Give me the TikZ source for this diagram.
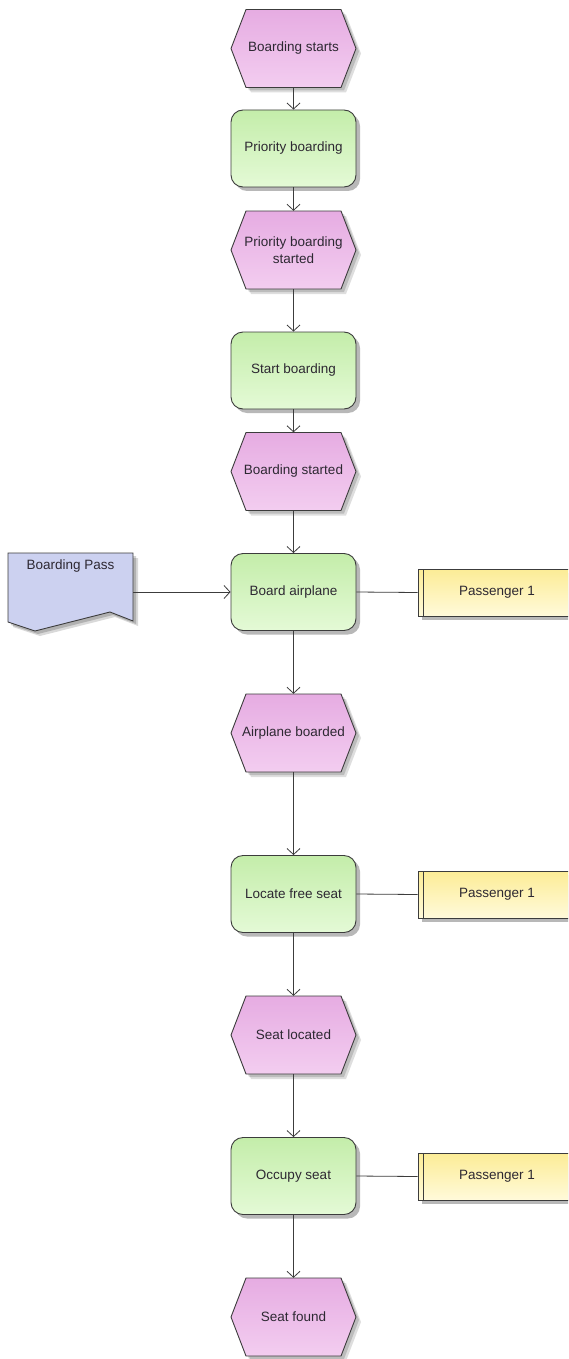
\documentclass[tikz,border=0pt]{standalone}
\usepackage{fontspec}
\setmainfont{Liberation Sans}
\usetikzlibrary{arrows.meta,shadows}
\definecolor{evtop}{RGB}{230,172,226}
\definecolor{evbot}{RGB}{243,205,240}
\definecolor{fntop}{RGB}{196,237,170}
\definecolor{fnbot}{RGB}{228,250,214}
\definecolor{docc}{RGB}{204,209,240}
\definecolor{roltop}{RGB}{252,236,150}
\definecolor{rolbot}{RGB}{255,250,218}
\definecolor{linec}{RGB}{60,60,60}
\definecolor{txtc}{RGB}{45,40,50}
\tikzset{
  lbl/.style={font=\fontsize{13.5}{16.5}\selectfont, text=txtc, align=center, inner sep=0pt},
  evtbox/.style={lbl, minimum width=125pt, minimum height=78pt},
  shad/.style={drop shadow={shadow xshift=4pt, shadow yshift=-4pt, opacity=.28, fill=black}},
  fnbox/.style={lbl, minimum width=125pt, minimum height=77pt, rounded corners=12pt,
    draw=linec, line width=0.9pt, top color=fntop, bottom color=fnbot, shad},
  rolebox/.style={lbl, minimum width=158pt, minimum height=47pt, draw=linec, line width=0.8pt,
    top color=roltop, bottom color=rolbot, shad,
    path picture={\draw[linec, line width=0.6pt] ([xshift=5pt]path picture bounding box.north west) -- ([xshift=5pt]path picture bounding box.south west);}},
  flow/.style={draw=linec, line width=0.8pt, -{Straight Barb[length=6pt,width=13pt,line width=0.8pt]}},
  assoc/.style={draw=linec, line width=0.8pt},
}
\newcommand\evt[4]{%
  \fill[black,opacity=.13] (#2-62.5+5,#3+5) -- (#2-47.5+5,#3-39+5) -- (#2+47.5+5,#3-39+5) -- (#2+62.5+5,#3+5) -- (#2+47.5+5,#3+39+5) -- (#2-47.5+5,#3+39+5) -- cycle;
  \fill[black,opacity=.15] (#2-62.5+3,#3+3) -- (#2-47.5+3,#3-39+3) -- (#2+47.5+3,#3-39+3) -- (#2+62.5+3,#3+3) -- (#2+47.5+3,#3+39+3) -- (#2-47.5+3,#3+39+3) -- cycle;
  \shade[top color=evtop, bottom color=evbot, draw=linec, line width=0.9pt] (#2-62.5,#3) -- (#2-47.5,#3-39) -- (#2+47.5,#3-39) -- (#2+62.5,#3) -- (#2+47.5,#3+39) -- (#2-47.5,#3+39) -- cycle;
  \node[evtbox] (#1) at (#2,#3) {#4};
}
\begin{document}
\begin{tikzpicture}[x=1pt,y=-1pt]
\useasboundingbox[fill=white] (0,0) rectangle (568,1359);
\clip (0,0) rectangle (568,1359);
% events
\evt{e1}{293.5}{48.5}{Boarding starts}
\evt{e2}{293.5}{250}{Priority boarding\\started}
\evt{e3}{293.5}{471.5}{Boarding started}
\evt{e4}{293.5}{733}{Airplane boarded}
\evt{e5}{293.5}{1035}{Seat located}
\evt{e6}{293.5}{1317}{Seat found}
% functions
\node[fnbox] (f1) at (293.5,148.5) {Priority boarding};
\node[fnbox] (f2) at (293.5,370.5) {Start boarding};
\node[fnbox] (f3) at (293.5,592) {Board airplane};
\node[fnbox] (f4) at (293.5,894) {Locate free seat};
\node[fnbox] (f5) at (293.5,1176) {Occupy seat};
% roles
\node[rolebox] (r1) at (497,592.5) {Passenger 1};
\node[rolebox] (r2) at (497,894.5) {Passenger 1};
\node[rolebox] (r3) at (497,1176.5) {Passenger 1};
% document
\fill[black,opacity=.15] (13,558) -- (138,558) -- (138,626) -- (115,617) -- (40,636) -- (13,627) -- cycle;
\fill[black,opacity=.18] (11,556) -- (136,556) -- (136,624) -- (113,615) -- (38,634) -- (11,625) -- cycle;
\filldraw[fill=docc, draw=linec, line width=0.9pt] (8,553) -- (133,553) -- (133,621) -- (110,612) -- (35,631) -- (8,622) -- cycle;
\node[lbl] (doc) at (70.5,566.5) {Boarding Pass};
\coordinate (docout) at (133,592);
% connectors
\draw[flow] (e1.south) -- (f1.north);
\draw[flow] (f1.south) -- (e2.north);
\draw[flow] (e2.south) -- (f2.north);
\draw[flow] (f2.south) -- (e3.north);
\draw[flow] (e3.south) -- (f3.north);
\draw[flow] (f3.south) -- (e4.north);
\draw[flow] (e4.south) -- (f4.north);
\draw[flow] (f4.south) -- (e5.north);
\draw[flow] (e5.south) -- (f5.north);
\draw[flow] (f5.south) -- (e6.north);
\draw[flow] (docout) -- (f3.west);
\draw[assoc] (f3.east) -- (r1.west);
\draw[assoc] (f4.east) -- (r2.west);
\draw[assoc] (f5.east) -- (r3.west);
\end{tikzpicture}
\end{document}
